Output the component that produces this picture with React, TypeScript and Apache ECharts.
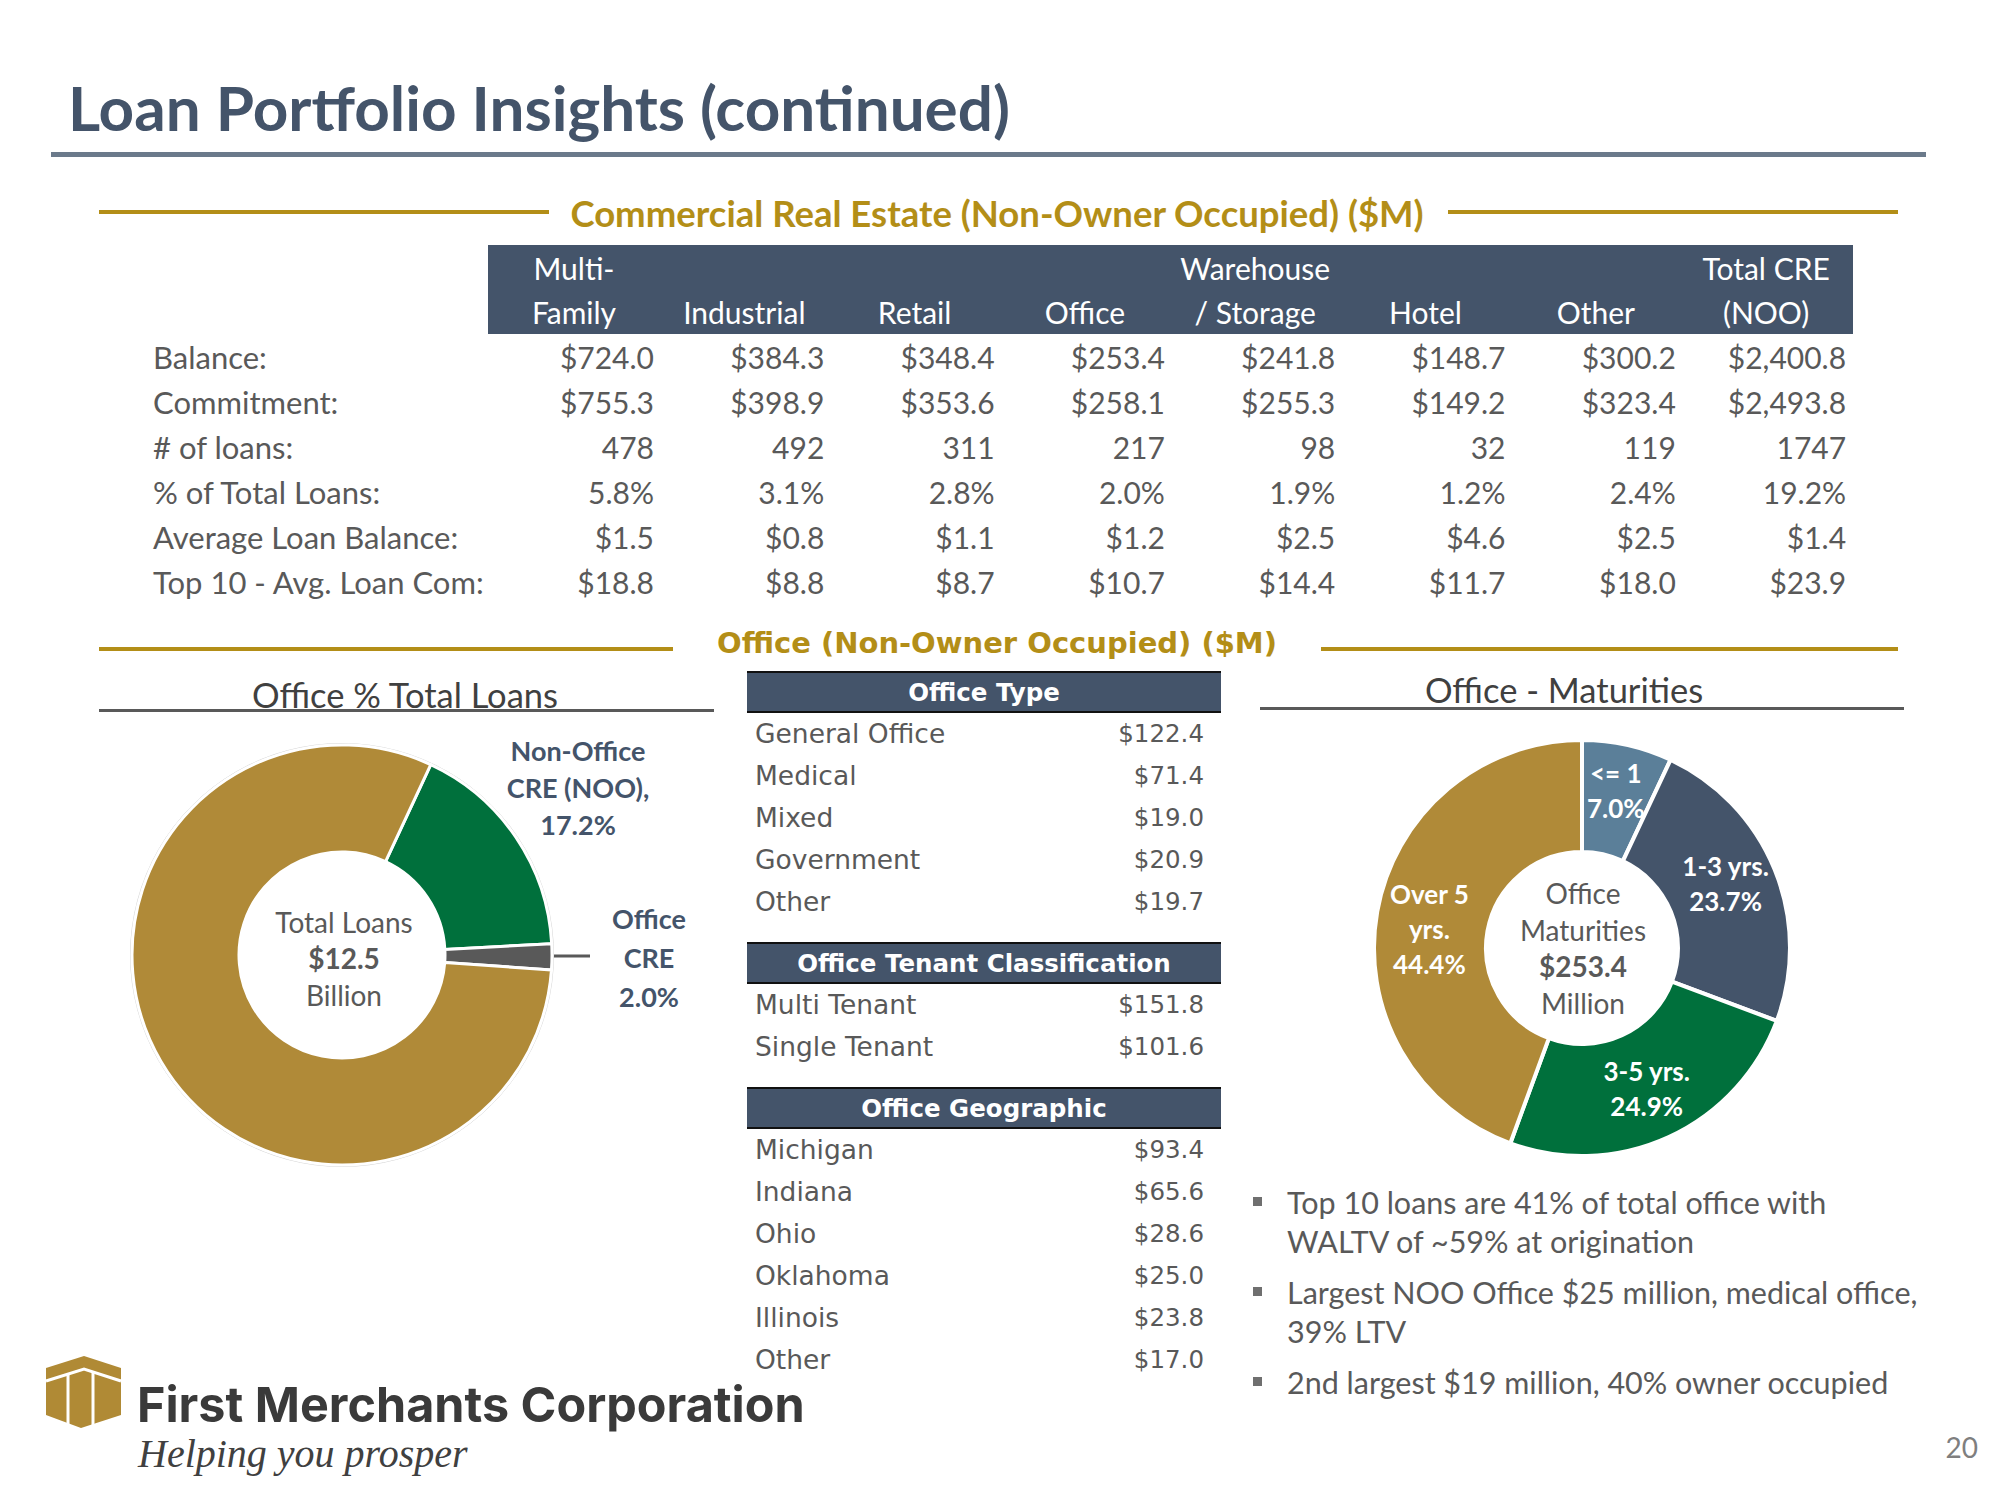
import React, { useEffect, useRef } from "react";
import * as echarts from "echarts";

// ---------------- DATA ----------------
const creColumns = ["Multi-\nFamily", "Industrial", "Retail", "Office", "Warehouse\n/ Storage", "Hotel", "Other", "Total CRE\n(NOO)"];
const creRowLabels = ["Balance:", "Commitment:", "# of loans:", "% of Total Loans:", "Average Loan Balance:", "Top 10 - Avg. Loan Com:"];
const creBalance = [724.0, 384.3, 348.4, 253.4, 241.8, 148.7, 300.2, 2400.8];
const creCommitment = [755.3, 398.9, 353.6, 258.1, 255.3, 149.2, 323.4, 2493.8];
const creLoanCount = [478, 492, 311, 217, 98, 32, 119, 1747];
const crePctTotal = [5.8, 3.1, 2.8, 2.0, 1.9, 1.2, 2.4, 19.2];
const creAvgBalance = [1.5, 0.8, 1.1, 1.2, 2.5, 4.6, 2.5, 1.4];
const creTop10Avg = [18.8, 8.8, 8.7, 10.7, 14.4, 11.7, 18.0, 23.9];

const officeShareNames = ["Non-Office CRE (NOO)", "Office CRE", "Other Loans"];
const officeShareLabels = ["Non-Office\nCRE (NOO),", "Office\nCRE", ""];
const officeShareValues = [17.2, 2.0, 80.8];
const totalLoansBillion = 12.5;

const officeTypeNames = ["General Office", "Medical", "Mixed", "Government", "Other"];
const officeTypeValues = [122.4, 71.4, 19.0, 20.9, 19.7];
const tenantNames = ["Multi Tenant", "Single Tenant"];
const tenantValues = [151.8, 101.6];
const geoNames = ["Michigan", "Indiana", "Ohio", "Oklahoma", "Illinois", "Other"];
const geoValues = [93.4, 65.6, 28.6, 25.0, 23.8, 17.0];

const maturityNames = ["<= 1", "1-3 yrs.", "3-5 yrs.", "Over 5 yrs."];
const maturityLabels = ["<= 1", "1-3 yrs.", "3-5 yrs.", "Over 5\nyrs."];
const maturityValues = [7.0, 23.7, 24.9, 44.4];
const officeTotalMillion = 253.4;

const bullets = [
  ["Top 10 loans are 41% of total office with", "WALTV of ~59% at origination"],
  ["Largest NOO Office $25 million, medical office,", "39% LTV"],
  ["2nd largest $19 million, 40% owner occupied"],
];

// ---------------- STYLE ----------------
const NAVY = "#44546A";
const GOLD_TXT = "#B38E17";
const GOLD = "#B08A38";
const GREEN = "#00703C";
const DGRAY = "#595959";
const STEEL = "#5B7F99";
const SANS = "Lato, 'Open Sans', sans-serif";
const VERD = "'DejaVu Sans', Verdana, sans-serif";

const money = (v: number, d = 1) =>
  "$" + v.toLocaleString("en-US", { minimumFractionDigits: d, maximumFractionDigits: d });

function txt(text: string, x: number, y: number, o: any = {}) {
  const align = o.align || "left";
  const va = o.va || "middle";
  return {
    type: "text",
    x,
    y,
    silent: true,
    style: {
      text,
      fill: o.color || DGRAY,
      fontSize: o.size || 30,
      fontFamily: o.family || SANS,
      fontWeight: o.weight || "normal",
      fontStyle: o.style || "normal",
      lineHeight: o.lh,
      align,
      textAlign: align,
      verticalAlign: va,
      textVerticalAlign: va,
    },
  };
}
function rect(x: number, y: number, w: number, h: number, fill: string) {
  return { type: "rect", silent: true, shape: { x, y, width: w, height: h }, style: { fill } };
}

export default function App() {
  const ref = useRef<HTMLDivElement>(null);
  useEffect(() => {
    if (!ref.current) return;
    const chart = echarts.init(ref.current, undefined, { renderer: "svg" });
    const g: any[] = [];

    // Title
    g.push(txt("Loan Portfolio Insights (continued)", 68, 107, { size: 62, weight: "bold", color: NAVY }));
    g.push(rect(51, 152, 1875, 5, "#6B7A8B"));

    // CRE section header
    g.push(txt("Commercial Real Estate (Non-Owner Occupied) ($M)", 997, 213, { size: 36.5, weight: "bold", color: GOLD_TXT, align: "center" }));
    g.push(rect(99, 210, 450, 4, GOLD_TXT));
    g.push(rect(1448, 210, 450, 4, GOLD_TXT));

    // CRE table header
    g.push(rect(488, 245, 1365, 89, NAVY));
    const colRight = (i: number) => 654 + i * 170.3;
    creColumns.forEach((c, i) => {
      const lines = c.split("\n");
      const cx = colRight(i) - 80;
      if (lines.length === 2) {
        g.push(txt(lines[0], cx, 268, { color: "#fff", align: "center" }));
        g.push(txt(lines[1], cx, 312, { color: "#fff", align: "center" }));
      } else {
        g.push(txt(lines[0], cx, 312, { color: "#fff", align: "center" }));
      }
    });
    const rows = [
      creBalance.map((v) => money(v)),
      creCommitment.map((v) => money(v)),
      creLoanCount.map((v) => String(v)),
      crePctTotal.map((v) => v.toFixed(1) + "%"),
      creAvgBalance.map((v) => money(v)),
      creTop10Avg.map((v) => money(v)),
    ];
    creRowLabels.forEach((lab, r) => {
      const y = 357 + r * 45;
      g.push(txt(lab, 153, y, { size: 31 }));
      rows[r].forEach((s, i) => g.push(txt(s, colRight(i), y, { align: "right" })));
    });

    // Office section header
    g.push(txt("Office (Non-Owner Occupied) ($M)", 997, 643, { size: 29, weight: "bold", color: GOLD_TXT, align: "center", family: VERD }));
    g.push(rect(99, 647, 574, 4, GOLD_TXT));
    g.push(rect(1321, 647, 577, 4, GOLD_TXT));

    // Sub titles
    g.push(txt("Office % Total Loans", 405, 694, { size: 34.5, color: "#404040", align: "center" }));
    g.push(rect(99, 709, 615, 3, DGRAY));
    g.push(txt("Office - Maturities", 1564, 689, { size: 34.5, color: "#404040", align: "center" }));
    g.push(rect(1260, 707, 644, 3, DGRAY));

    // Middle tables
    const tbl = (title: string, top: number, names: string[], vals: number[]) => {
      g.push(rect(747, top, 474, 40, NAVY));
      g.push(rect(747, top - 1, 474, 2, "#111"));
      g.push(rect(747, top + 39, 474, 2, "#111"));
      g.push(txt(title, 984, top + 20, { size: 24.5, weight: "bold", color: "#fff", align: "center", family: VERD }));
      names.forEach((n, i) => {
        const y = top + 61 + i * 42;
        g.push(txt(n, 755, y, { size: 26.5, family: VERD }));
        g.push(txt(money(vals[i]), 1204, y, { size: 24.5, family: VERD, align: "right" }));
      });
    };
    tbl("Office Type", 672, officeTypeNames, officeTypeValues);
    tbl("Office Tenant Classification", 943, tenantNames, tenantValues);
    tbl("Office Geographic", 1088, geoNames, geoValues);

    // Left donut labels & centre
    g.push(txt(`${officeShareLabels[0]}\n${officeShareValues[0].toFixed(1)}%`, 578, 787, { size: 27, weight: "bold", color: NAVY, align: "center", lh: 37 }));
    g.push(txt(`${officeShareLabels[1]}\n${officeShareValues[1].toFixed(1)}%`, 649, 957, { size: 27, weight: "bold", color: NAVY, align: "center", lh: 39 }));
    g.push({ type: "line", silent: true, shape: { x1: 550, y1: 956, x2: 590, y2: 956 }, style: { stroke: DGRAY, lineWidth: 3 } });
    g.push(txt("Total Loans", 344, 922, { size: 28, align: "center" }));
    g.push(txt("$" + totalLoansBillion.toFixed(1), 344, 958, { size: 28, weight: "bold", align: "center" }));
    g.push(txt("Billion", 344, 995, { size: 28, align: "center" }));
    g.push({ type: "circle", silent: true, shape: { cx: 342, cy: 955, r: 211.5 }, style: { fill: "none", stroke: "#D6D6D6", lineWidth: 1 } });

    // Right donut centre
    g.push(txt("Office", 1583, 893, { size: 28, align: "center" }));
    g.push(txt("Maturities", 1583, 930, { size: 28, align: "center" }));
    g.push(txt(money(officeTotalMillion), 1583, 966, { size: 28, weight: "bold", align: "center" }));
    g.push(txt("Million", 1583, 1003, { size: 28, align: "center" }));

    // Bullets
    let by = 1202;
    bullets.forEach((lines) => {
      g.push(rect(1253, by - 5, 9, 9, "#6F6F6F"));
      lines.forEach((l, j) => {
        g.push(txt(l, 1287, by + j * 39, { size: 30.5 }));
      });
      by += (lines.length - 1) * 39 + 51;
    });

    // Page number
    g.push(txt("20", 1978, 1447, { size: 28, color: "#7F7F7F", align: "right" }));

    // Logo
    g.push({
      type: "polygon",
      silent: true,
      shape: { points: [[46, 1368], [84, 1356], [121, 1368], [121, 1415], [81, 1428], [46, 1415]] },
      style: { fill: "#B08A35" },
    });
    g.push({ type: "polyline", silent: true, shape: { points: [[46, 1381], [84, 1369], [121, 1381]] }, style: { stroke: "#fff", lineWidth: 3, fill: "none" } });
    g.push({ type: "line", silent: true, shape: { x1: 68, y1: 1375, x2: 68, y2: 1424 }, style: { stroke: "#fff", lineWidth: 3 } });
    g.push({ type: "line", silent: true, shape: { x1: 93, y1: 1373, x2: 93, y2: 1426 }, style: { stroke: "#fff", lineWidth: 3 } });
    g.push(txt("First Merchants Corporation", 137, 1404, { size: 48.5, weight: "bold", color: "#3A3A3A", family: "Inter, Lato, sans-serif", lh: 48 }));
    g.push(txt("Helping you prosper", 138, 1453, { size: 40, style: "italic", color: "#404040", family: "'Liberation Serif', serif", lh: 40 }));

    const leftColors = [GREEN, DGRAY, GOLD];
    const rightColors = [STEEL, NAVY, GREEN, GOLD];
    const maturityLabelNudge = [-6, -6, 0, 8];

    chart.setOption({
      animation: false,
      backgroundColor: "#ffffff",
      series: [
        {
          type: "pie",
          center: [342, 955],
          radius: [103, 210],
          startAngle: 65,
          clockwise: true,
          silent: true,
          itemStyle: { borderColor: "#fff", borderWidth: 3 },
          label: { show: false },
          labelLine: { show: false },
          data: officeShareNames.map((n, i) => ({ name: n, value: officeShareValues[i], itemStyle: { color: leftColors[i] } })),
        },
        {
          type: "pie",
          center: [1582, 948],
          radius: [96, 208],
          startAngle: 90,
          clockwise: true,
          silent: true,
          itemStyle: { borderColor: "#fff", borderWidth: 4 },
          label: {
            show: true,
            position: "inside",
            formatter: (p: any) => `${maturityLabels[p.dataIndex]}\n${p.value.toFixed(1)}%`,
            color: "#fff",
            fontFamily: SANS,
            fontWeight: "bold",
            fontSize: 26,
            lineHeight: 35,
            textBorderWidth: 0,
          },
          labelLayout: (p: any) => ({ dy: maturityLabelNudge[p.dataIndex] }),
          labelLine: { show: false },
          data: maturityNames.map((n, i) => ({ name: n, value: maturityValues[i], itemStyle: { color: rightColors[i] } })),
        },
      ],
      graphic: { elements: g },
    });
    return () => chart.dispose();
  }, []);
  return <div ref={ref} style={{ position: "fixed", left: 0, top: 0, width: 2000, height: 1500, background: "#fff" }} />;
}
